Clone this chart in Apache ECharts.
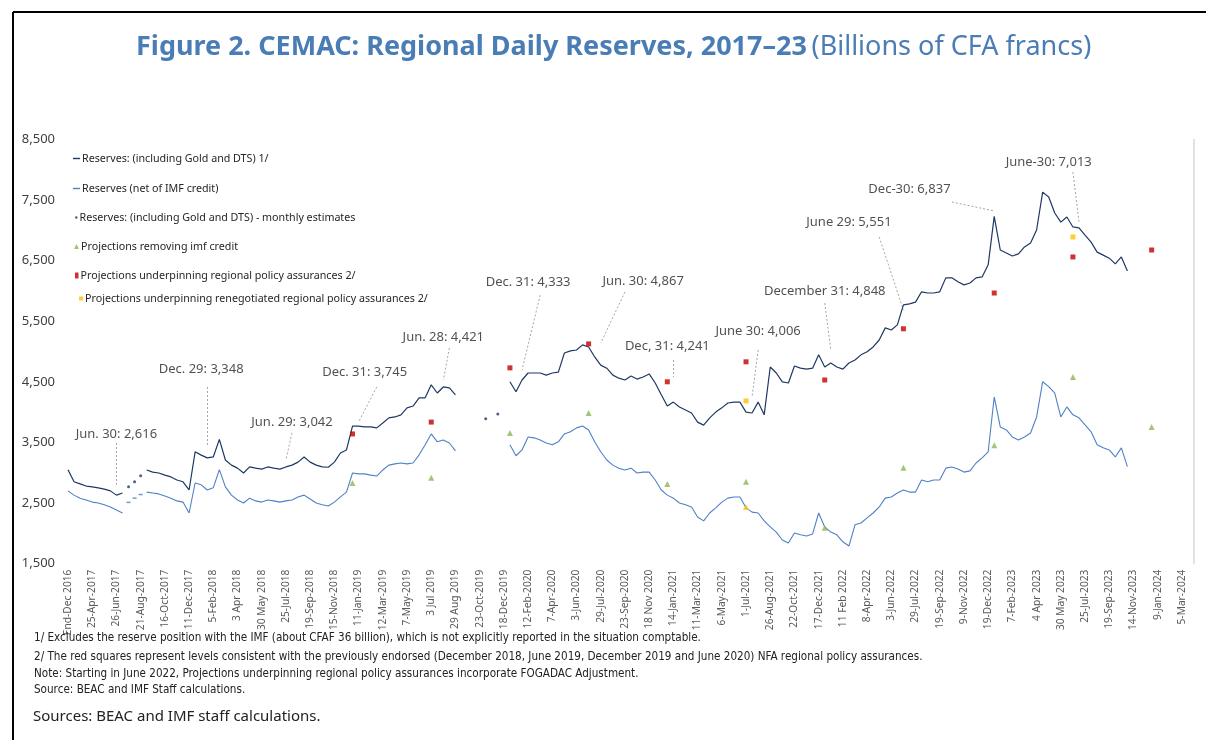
<!DOCTYPE html>
<html>
<head>
<meta charset="utf-8">
<title>CEMAC: Regional Daily Reserves</title>
<script src="https://cdn.jsdelivr.net/npm/echarts@6/dist/echarts.min.js"></script>
<style>
  html, body { margin: 0; padding: 0; background: #fff; }
  #chart { width: 1206px; height: 740px; }
</style>
</head>
<body>
<div id="chart"></div>
<script>
// tick labels, one every 4 category slots
const tickLabels = [
  'End-Dec 2016', '25-Apr-2017', '26-Jun-2017', '21-Aug-2017', '16-Oct-2017', '11-Dec-2017',
  '5-Feb-2018', '3 Apr 2018', '30 May 2018', '25-Jul-2018', '19-Sep-2018', '15-Nov-2018',
  '11-Jan-2019', '12-Mar-2019', '7-May-2019', '3 Jul 2019', '29 Aug 2019', '23-Oct-2019',
  '18-Dec-2019', '12-Feb-2020', '7-Apr-2020', '3-Jun-2020', '29-Jul-2020', '23-Sep-2020',
  '18 Nov 2020', '14-Jan-2021', '11-Mar-2021', '6-May-2021', '1-Jul-2021', '26-Aug-2021',
  '22-Oct-2021', '17-Dec-2021', '11 Feb 2022', '8-Apr-2022', '3-Jun-2022', '29-Jul-2022',
  '19-Sep-2022', '9-Nov-2022', '19-Dec-2022', '7-Feb-2023', '4 Apr 2023', '30 May 2023',
  '25-Jul-2023', '19-Sep-2023', '14-Nov-2023', '9-Jan-2024', '5-Mar-2024'
]
const slotsPerTick = 4
const nCats = 187

// reserves incl. gold and DTS (~2-week steps)
const reservesGold = [
  3050, 2850, 2815, 2780, 2765, 2750, 2730, 2700, 2630, 2665,
  null, null, null, 3045, 3010, 2995, 2960, 2930, 2880, 2850,
  2715, 3345, 3290, 3245, 3260, 3550, 3210, 3125, 3075, 2995,
  3095, 3075, 3060, 3095, 3075, 3060, 3095, 3125, 3175, 3260,
  3175, 3125, 3095, 3090, 3175, 3325, 3375, 3770, 3770, 3755,
  3755, 3740, 3820, 3905, 3920, 3955, 4070, 4100, 4235, 4235,
  4450, 4315, 4415, 4400, 4285, null, null, null, null, null,
  null, null, null, 4500, 4335, 4530, 4645, 4645, 4645, 4610,
  4645, 4660, 4975, 5010, 5025, 5110, 5075, 4910, 4775, 4725,
  4610, 4560, 4530, 4595, 4545, 4580, 4630, 4480, 4285, 4100,
  4165, 4085, 4035, 3985, 3835, 3785, 3905, 4000, 4070, 4150,
  4165, 4165, 4000, 3985, 4165, 3955, 4745, 4645, 4500, 4480,
  4760, 4725, 4710, 4725, 4945, 4745, 4810, 4745, 4710, 4810,
  4860, 4945, 4995, 5075, 5190, 5390, 5355, 5440, 5770, 5785,
  5815, 5985, 5965, 5965, 5985, 6215, 6215, 6150, 6100, 6130,
  6215, 6230, 6430, 7230, 6675, 6625, 6575, 6610, 6725, 6790,
  7005, 7630, 7550, 7285, 7135, 7220, 7055, 7040, 6920, 6805,
  6640, 6590, 6540, 6445, 6560, 6330
]

// reserves net of IMF credit
const reservesNet = [
  2700, 2630, 2580, 2550, 2515, 2500, 2470, 2435, 2385, 2335,
  null, null, null, 2680, 2665, 2650, 2615, 2580, 2535, 2515,
  2335, 2830, 2800, 2715, 2750, 3050, 2765, 2630, 2550, 2500,
  2580, 2535, 2515, 2550, 2535, 2515, 2535, 2550, 2600, 2630,
  2565, 2500, 2470, 2450, 2515, 2600, 2680, 2995, 2980, 2980,
  2960, 2945, 3045, 3125, 3145, 3160, 3145, 3160, 3295, 3460,
  3640, 3510, 3540, 3490, 3360, null, null, null, null, null,
  null, null, null, 3460, 3280, 3375, 3590, 3575, 3540, 3490,
  3460, 3510, 3640, 3675, 3740, 3770, 3705, 3510, 3345, 3210,
  3125, 3075, 3045, 3075, 2995, 3010, 3010, 2880, 2715, 2630,
  2580, 2500, 2470, 2435, 2270, 2205, 2335, 2420, 2515, 2580,
  2600, 2600, 2420, 2350, 2335, 2205, 2105, 2020, 1890, 1840,
  2005, 1975, 1955, 1990, 2335, 2105, 2020, 1975, 1860, 1790,
  2140, 2170, 2255, 2335, 2435, 2580, 2600, 2665, 2715, 2680,
  2680, 2880, 2850, 2880, 2880, 3075, 3095, 3060, 3010, 3030,
  3160, 3245, 3345, 4250, 3755, 3705, 3590, 3540, 3590, 3655,
  3920, 4500, 4420, 4315, 3920, 4085, 3955, 3905, 3790, 3675,
  3460, 3410, 3375, 3260, 3410, 3100
]

// monthly estimates (only visible in the gaps of the daily series)
const monthlyIdx = [10, 11, 12, 69, 71]
const monthlyEst = [2770, 2850, 2950, 3890, 3970]
const netGapIdx = [10, 11, 12]
const netGapVal = [2510, 2580, 2640]

// projections, end-Dec / end-Jun
const projIdx = [47, 60, 73, 86, 99, 112, 125, 138, 153, 166, 179]
const projNoImf = [2830, 2915, 3655, 3985, 2815, 2850, 2090, 3080, 3455, 4580, 3755]
const projAssur = [3640, 3835, 4730, 5125, 4500, 4830, 4530, 5375, 5965, 6560, 6675]
const renegIdx = [112, 166]
const renegGold = [4185, 6890]
const renegNetIdx = [112]
const renegNet = [2435]

// call-outs: text, label anchor [slot, value], leader from / to
const annoText = [
  'Jun. 30: 2,616', 'Dec. 29: 3,348', 'Jun. 29: 3,042', 'Dec. 31: 3,745', 'Jun. 28: 4,421',
  'Dec. 31: 4,333', 'Jun. 30: 4,867', 'Dec, 31: 4,241', 'June 30: 4,006', 'December 31: 4,848',
  'June 29: 5,551', 'Dec-30: 6,837', 'June-30: 7,013'
]
const annoAt = [
  [8, 3640], [22, 4712], [37, 3837], [49, 4662], [62, 5240],
  [76, 6147], [95, 6164], [99, 5080], [114, 5340], [125, 5987],
  [129, 7137], [139, 7682], [162, 8127]
]
const leaderFrom = [
  [8, 3490], [23, 4415], [37, 3656], [51, 4415], [63, 5058],
  [78, 5930], [92, 5982], [100, 4860], [114, 5025], [125, 5800],
  [134, 6890], [146, 7467], [166, 7960]
]
const leaderTo = [
  [8, 2800], [23, 3425], [36, 3210], [48, 3837], [62, 4530],
  [75, 4695], [88, 5140], [100, 4580], [113, 4250], [126, 5025],
  [138, 5685], [153, 7319], [167, 7140]
]

const NAMES = {
  gold: 'Reserves: (including Gold and DTS) 1/',
  net: 'Reserves (net of IMF credit)',
  monthly: 'Reserves: (including Gold and DTS) - monthly estimates',
  noImf: 'Projections removing imf credit',
  assur: 'Projections underpinning regional policy assurances 2/',
  reneg: 'Projections underpinning renegotiated regional policy assurances 2/'
}
const C = { gold: '#1f3864', net: '#4f81c6', green: '#8db651', red: '#c00000', orange: '#ffc000' }
const FONT = '"Noto Sans", "Open Sans", sans-serif'
const NARROW = '"Liberation Sans Narrow", "DejaVu Sans Condensed", sans-serif'

const categories = []
for (let j = 0; j < nCats; j++) {
  categories.push(j % slotsPerTick === 0 && tickLabels[j / slotsPerTick] ? tickLabels[j / slotsPerTick] : '')
}
const pairs = (idx, vals) => idx.map((j, i) => [j, vals[i]])

// one small legend per entry, so each icon keeps its own size
const legendSpecs = [
  { name: NAMES.gold, icon: 'rect', w: 7, h: 1.4, top: 153, left: 73 },
  { name: NAMES.net, icon: 'rect', w: 7, h: 1.4, top: 183, left: 73 },
  { name: NAMES.monthly, icon: 'circle', w: 2.5, h: 2.5, top: 212, left: 75 },
  { name: NAMES.noImf, icon: 'triangle', w: 5, h: 5, top: 241, left: 74 },
  { name: NAMES.assur, icon: 'rect', w: 3.5, h: 6, top: 270, left: 75 },
  { name: NAMES.reneg, icon: 'rect', w: 4, h: 4, top: 293, left: 79 }
]

const footnotes = [
  '1/ Excludes the reserve position with the IMF (about CFAF 36 billion), which is not explicitly reported in the situation comptable.',
  '2/ The red squares represent levels consistent with the previously endorsed (December 2018, June 2019, December 2019 and June 2020) NFA regional policy assurances.',
  'Note: Starting in June 2022, Projections underpinning regional policy assurances incorporate FOGADAC Adjustment.',
  'Source: BEAC and IMF Staff calculations.'
]
const footTops = [632, 651, 668, 684]

const chart = echarts.init(document.getElementById('chart'))

chart.setOption({
  animation: false,
  backgroundColor: '#fff',
  textStyle: { fontFamily: FONT },
  title: [
    {
      text: '{b|Figure 2. CEMAC: Regional Daily Reserves, 2017\u201323} {n|(Billions of CFA francs)}',
      left: 136, top: 34, padding: 0,
      textStyle: {
        rich: {
          b: { fontFamily: FONT, fontSize: 27, fontWeight: 'bold', color: '#4a7db5' },
          n: { fontFamily: FONT, fontSize: 27, fontWeight: 'normal', color: '#4a7db5' }
        }
      }
    },
    ...footnotes.map((t, i) => ({
      text: t, left: 34, top: footTops[i], padding: 0,
      textStyle: { fontFamily: NARROW, fontSize: 11.6, fontWeight: 'normal', color: '#222' }
    })),
    {
      text: 'Sources: BEAC and IMF staff calculations.', left: 33, top: 709, padding: 0,
      textStyle: { fontFamily: FONT, fontSize: 15, fontWeight: 'normal', color: '#222' }
    }
  ],
  legend: legendSpecs.map(s => ({
    data: [{ name: s.name, icon: s.icon }],
    left: s.left, top: s.top, padding: 0,
    itemWidth: s.w, itemHeight: s.h,
    selectedMode: false,
    textStyle: { fontFamily: FONT, fontSize: 10.7, color: '#262626', padding: [0, 0, 0, -3] }
  })),
  grid: { left: 68, right: 12, top: 139.4, bottom: 176.4, containLabel: false },
  xAxis: {
    type: 'category',
    data: categories,
    boundaryGap: false,
    axisLine: { show: false },
    axisTick: { show: false },
    splitLine: { show: false },
    axisLabel: { interval: slotsPerTick - 1, rotate: 90, margin: 6, fontSize: 10.2, color: '#595959', fontFamily: FONT }
  },
  yAxis: [
    {
      type: 'value', min: 1500, max: 8500, interval: 1000,
      axisLine: { show: false }, axisTick: { show: false }, splitLine: { show: false },
      axisLabel: { margin: 13, fontSize: 13, color: '#404040', fontFamily: FONT,
        formatter: v => v.toLocaleString('en-US') }
    },
    {
      type: 'value', min: 1500, max: 8500, interval: 1000, position: 'right',
      axisLine: { show: true, lineStyle: { color: '#d9d9d9', width: 1.5 } },
      axisTick: { show: false }, axisLabel: { show: false }, splitLine: { show: false }
    }
  ],
  series: [
    {
      name: NAMES.net, type: 'line', data: reservesNet, symbol: 'none', connectNulls: false,
      lineStyle: { color: C.net, width: 1.1 }, itemStyle: { color: C.net }, z: 2
    },
    {
      name: NAMES.gold, type: 'line', data: reservesGold, symbol: 'none', connectNulls: false,
      lineStyle: { color: C.gold, width: 1.2 }, itemStyle: { color: C.gold }, z: 3
    },
    {
      name: NAMES.monthly, type: 'scatter', data: pairs(monthlyIdx, monthlyEst),
      symbol: 'circle', symbolSize: 3, itemStyle: { color: C.gold }, z: 4
    },
    {
      name: 'net-gap', type: 'scatter', data: pairs(netGapIdx, netGapVal),
      symbol: 'rect', symbolSize: [4, 1.5], itemStyle: { color: C.net }, z: 4
    },
    {
      name: NAMES.noImf, type: 'scatter', data: pairs(projIdx, projNoImf),
      symbol: 'triangle', symbolSize: 6, itemStyle: { color: C.green }, z: 5
    },
    {
      name: NAMES.assur, type: 'scatter', data: pairs(projIdx, projAssur),
      symbol: 'rect', symbolSize: 5, itemStyle: { color: C.red }, z: 5
    },
    {
      name: NAMES.reneg, type: 'scatter',
      data: pairs(renegIdx, renegGold).concat(
        pairs(renegNetIdx, renegNet).map(p => ({ value: p, symbol: 'triangle', symbolSize: 6 }))),
      symbol: 'rect', symbolSize: 5, itemStyle: { color: C.orange }, z: 6
    },
    {
      name: 'leaders', type: 'lines', coordinateSystem: 'cartesian2d', silent: true,
      data: leaderFrom.map((f, i) => ({ coords: [f, leaderTo[i]] })),
      lineStyle: { color: '#a6a6a6', width: 1, type: [2, 2], opacity: 1 }, z: 1
    },
    {
      name: 'callouts', type: 'scatter', silent: true,
      data: annoAt.map((p, i) => ({ name: annoText[i], value: p })),
      symbolSize: 1, itemStyle: { color: 'rgba(0,0,0,0)' },
      label: { show: true, position: 'inside', formatter: p => p.name, fontSize: 13, color: '#262626', fontFamily: FONT },
      z: 7
    }
  ],
  graphic: [
    { type: 'line', shape: { x1: 13, y1: 12, x2: 13, y2: 740 }, style: { stroke: '#000', lineWidth: 2 } },
    { type: 'line', shape: { x1: 13, y1: 12, x2: 1206, y2: 12 }, style: { stroke: '#000', lineWidth: 2 } }
  ]
})
</script>
</body>
</html>
